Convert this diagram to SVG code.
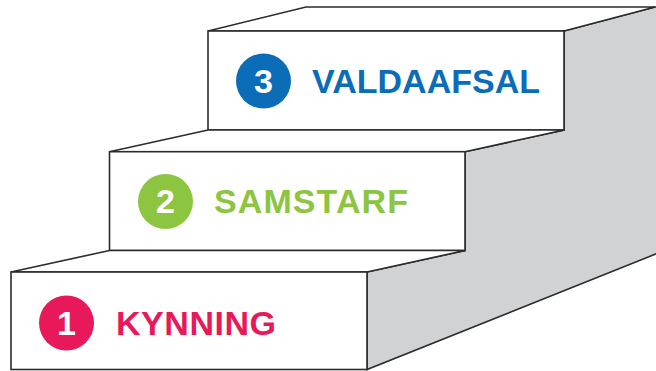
<svg xmlns="http://www.w3.org/2000/svg" width="656" height="371" viewBox="0 0 656 371">
<style>
.face{fill:#ffffff;stroke:#2b2b2b;stroke-width:1.6;stroke-linejoin:miter}
.side{fill:#d1d2d4;stroke:#2b2b2b;stroke-width:1.6;stroke-linejoin:miter}
.num{font-family:"Liberation Sans",Arial,sans-serif;font-weight:bold;font-size:34px;fill:#ffffff;text-anchor:middle}
.lbl{font-family:"Liberation Sans",Arial,sans-serif;font-weight:bold;font-size:34px}
</style>
<rect width="656" height="371" fill="#ffffff"/>
<g id="side">
<polygon class="side" points="564,31 655,7 657,7 657,253.5 367,369.5 367,272 465,250.5 465,151.7 564,130"/>
</g>
<g id="step3">
<polygon class="face" points="208,31 306,7 655,7 564,31"/>
<rect class="face" x="208" y="31" width="356" height="99"/>
<circle cx="263.5" cy="81" r="27.5" fill="#0b6db7"/>
<text class="num" x="263.5" y="93">3</text>
<text class="lbl" x="312" y="93" fill="#0b6db7" textLength="228" lengthAdjust="spacing">VALDAAFSAL</text>
</g>
<g id="step2">
<polygon class="face" points="109.5,151.7 208,130 564,130 465,151.7"/>
<rect class="face" x="109.5" y="151.7" width="355.5" height="98.8"/>
<circle cx="165.5" cy="201.5" r="27.5" fill="#8cc53f"/>
<text class="num" x="165.5" y="213">2</text>
<text class="lbl" x="214" y="213" fill="#8cc53f" textLength="194" lengthAdjust="spacing">SAMSTARF</text>
</g>
<g id="step1">
<polygon class="face" points="11,272 109.5,250.5 465,250.5 367,272"/>
<rect class="face" x="11" y="272" width="356" height="97.5"/>
<circle cx="66.5" cy="323" r="27.5" fill="#e8195a"/>
<text class="num" x="66.5" y="335">1</text>
<text class="lbl" x="116" y="335" fill="#e8195a" textLength="160" lengthAdjust="spacing">KYNNING</text>
</g>
</svg>
